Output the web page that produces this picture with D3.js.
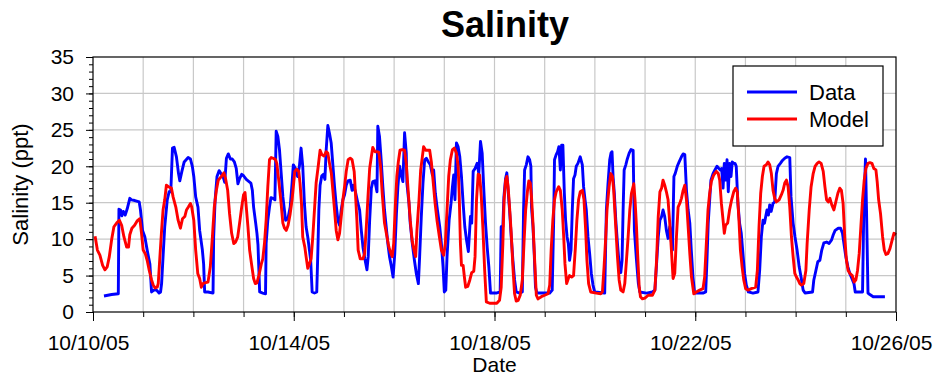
<!DOCTYPE html>
<html>
<head>
<meta charset="utf-8">
<script src="https://cdn.jsdelivr.net/npm/d3@7"></script>
<style>
  body { margin: 0; background: #fff; }
  svg { display: block; }
  text { font-family: "Liberation Sans", Arial, Helvetica, sans-serif; fill: #000; }
</style>
</head>
<body>
<svg id="chart" width="936" height="376"></svg>
<script>
// Salinity record, 10/10/05 - 10/26/05. Times are hours after 10/10/05 00:00.
const startDate = new Date(2005, 9, 10);
const endDate = new Date(2005, 9, 26);
const yTickValues = [0, 5, 10, 15, 20, 25, 30, 35];
const seriesNames = ["Data", "Model"];

// Measured salinity (ppt)
const dataHours = [
  5.25, 8.9, 12.1, 12.4, 13.2, 13.8, 14.5, 15.4, 16.4, 17.6, 18.4, 20.0, 22.1, 22.7, 23.7, 24.8, 25.9, 27.2, 28.0, 29.1,
  30.4, 31.6, 32.3, 32.8, 33.5, 34.3, 35.5, 36.4, 37.2, 38.0, 38.8, 39.9, 40.9, 41.5, 42.5, 43.6, 45.5, 46.6, 47.5, 48.2,
  49.1, 50.2, 51.0, 52.3, 52.9, 53.4, 55.0, 57.4, 57.7, 58.4, 59.3, 60.3, 61.2, 62.2, 63.0, 63.8, 64.7, 65.7, 66.6, 67.6,
  68.5, 69.3, 70.1, 71.1, 72.0, 73.3, 74.6, 75.5, 76.2, 76.8, 77.8, 78.4, 78.9, 79.7, 81.2, 82.5, 82.8, 83.6, 84.4, 85.1,
  86.0, 87.0, 87.6, 88.4, 89.2, 90.0, 90.8, 92.1, 93.2, 94.3, 95.2, 95.8, 96.8, 97.8, 98.7, 99.5, 100.3, 101.1, 101.9, 102.7,
  103.5, 104.1, 104.8, 105.9, 107.0, 107.5, 108.0, 108.6, 109.4, 110.2, 110.9, 111.5, 112.3, 113.1, 113.9, 114.7, 115.5, 116.3, 117.1, 117.9,
  118.7, 119.5, 120.3, 121.1, 121.9, 123.0, 123.9, 124.6, 125.5, 126.7, 127.5, 128.3, 129.1, 130.0, 131.0, 131.6, 132.3, 133.1, 133.8, 134.8,
  135.8, 136.2, 137.0, 137.8, 138.6, 139.4, 140.2, 141.0, 141.8, 142.7, 143.5, 144.3, 145.1, 145.8, 146.6, 147.4, 148.2, 149.0, 149.8, 150.1,
  151.1, 151.7, 152.7, 153.7, 154.6, 155.6, 156.2, 157.0, 157.8, 158.6, 159.4, 160.4, 161.3, 162.3, 162.9, 163.7, 164.7, 165.8, 166.6, 167.4,
  168.0, 168.7, 169.3, 170.3, 171.2, 171.9, 172.5, 173.1, 173.8, 174.6, 175.4, 176.2, 177.0, 177.8, 178.6, 179.5, 180.5, 181.1, 181.8, 182.7,
  183.7, 184.5, 185.3, 186.1, 186.9, 187.7, 188.5, 189.3, 190.1, 192.8, 194.7, 195.2, 196.0, 196.5, 197.3, 197.9, 198.5, 199.2, 200.0, 200.8,
  201.6, 202.4, 204.0, 205.3, 205.9, 206.4, 207.2, 208.0, 208.8, 209.4, 209.7, 210.4, 211.0, 211.6, 212.3, 218.4, 219.6, 220.3, 220.7, 221.5,
  222.2, 222.8, 223.5, 224.1, 224.7, 225.4, 226.0, 226.7, 227.3, 227.9, 228.6, 229.2, 229.8, 230.5, 231.1, 231.9, 233.0, 234.0, 234.6, 235.3,
  235.9, 236.7, 237.5, 238.3, 239.1, 239.9, 244.7, 245.5, 246.3, 247.1, 247.7, 248.2, 248.7, 249.3, 250.0, 250.8, 251.6, 252.4, 253.0, 253.5,
  254.0, 254.8, 255.4, 256.4, 257.3, 258.3, 258.9, 259.9, 260.8, 261.5, 264.7, 267.5, 268.7, 269.5, 270.3, 271.1, 271.9, 272.6, 273.4, 274.2,
  275.0, 275.8, 276.6, 277.1, 277.8, 278.4, 279.4, 280.3, 281.4, 282.2, 283.0, 283.8, 284.6, 285.4, 286.1, 286.9, 287.7, 291.7, 293.0, 293.6,
  294.2, 294.9, 295.5, 296.5, 297.4, 298.4, 299.3, 300.0, 300.6, 301.3, 301.9, 302.5, 303.2, 303.8, 304.4, 305.1, 305.7, 306.4, 307.0, 307.6,
  308.4, 309.2, 310.0, 310.8, 311.6, 312.4, 313.4, 315.6, 318.0, 318.8, 319.6, 320.4, 321.1, 321.7, 322.3, 323.0, 323.6, 324.3, 325.2, 326.0,
  326.8, 327.6, 328.7, 329.7, 330.8, 331.9, 333.2, 333.8, 334.8, 335.7, 336.7, 337.7, 338.6, 339.6, 340.5, 344.1, 344.7, 345.7, 346.6, 347.6,
  348.5, 349.5, 350.8, 352.0, 353.2, 354.0, 354.9, 356.4, 357.5, 358.4, 359.1, 360.0, 361.0, 361.9, 362.9, 363.9, 364.5, 368.0, 368.6, 369.4,
  369.9, 370.6, 371.5, 373.1, 378.7
];
const dataPpt = [
  2.2, 2.4, 2.5, 14.1, 14.0, 13.2, 13.8, 13.3, 14.2, 15.6, 15.4, 15.3, 15.1, 14.0, 11.2, 10.3, 8.5, 6.6, 2.75, 3.0,
  3.0, 2.6, 2.75, 3.9, 7.6, 11.7, 15.4, 16.5, 16.5, 22.5, 22.6, 21.3, 19.0, 18.0, 19.3, 20.6, 21.2, 21.0, 20.0, 18.6,
  15.8, 14.4, 11.2, 8.5, 6.6, 2.75, 2.75, 2.6, 10.3, 15.4, 18.6, 19.4, 19.0, 18.6, 17.8, 21.1, 21.7, 21.0, 21.0, 20.6,
  19.7, 17.6, 18.3, 18.9, 18.7, 18.2, 17.9, 17.7, 16.7, 14.4, 12.2, 10.8, 9.2, 2.75, 2.6, 2.5, 9.4, 12.6, 14.4, 15.7,
  15.6, 15.4, 24.8, 24.1, 22.2, 19.0, 15.8, 12.6, 12.8, 14.4, 17.7, 20.2, 19.7, 18.6, 20.0, 22.5, 20.0, 14.9, 11.7, 10.3,
  8.5, 7.1, 2.75, 2.6, 2.75, 8.0, 14.0, 17.4, 18.7, 18.9, 18.2, 22.2, 25.6, 24.5, 23.2, 20.2, 17.2, 14.7, 12.6, 11.9,
  14.0, 15.4, 16.1, 17.4, 18.0, 18.1, 16.7, 17.4, 16.5, 14.9, 14.0, 11.2, 8.9, 7.3, 5.8, 7.6, 12.6, 17.0, 17.9, 18.0,
  16.5, 25.5, 24.1, 20.9, 17.2, 14.0, 11.7, 9.4, 7.6, 6.2, 4.8, 8.0, 13.5, 17.2, 20.0, 18.8, 17.9, 24.6, 21.8, 17.7,
  14.9, 12.2, 9.4, 7.1, 5.3, 3.9, 7.6, 13.1, 17.7, 20.9, 21.1, 20.6, 20.2, 18.8, 19.5, 16.3, 14.0, 11.7, 9.4, 6.2,
  2.75, 3.0, 7.6, 12.6, 14.9, 17.2, 18.8, 15.4, 23.2, 22.7, 21.3, 18.6, 14.9, 11.7, 9.9, 8.3, 13.1, 12.2, 19.3, 19.7,
  20.4, 19.0, 23.4, 21.8, 16.7, 12.2, 8.9, 6.2, 2.6, 2.6, 2.75, 11.7, 11.7, 15.8, 18.3, 19.1, 16.7, 14.0, 10.3, 7.1,
  4.4, 2.75, 2.6, 2.75, 14.0, 19.5, 20.2, 21.3, 20.9, 20.0, 14.4, 11.7, 8.0, 3.4, 2.6, 2.6, 3.0, 12.6, 20.9, 21.6,
  22.0, 22.7, 19.5, 22.9, 22.9, 16.3, 12.6, 10.3, 9.4, 7.1, 8.5, 14.0, 18.3, 18.8, 20.0, 20.4, 21.3, 20.2, 17.2, 15.4,
  14.0, 10.3, 8.0, 5.3, 3.7, 2.75, 2.6, 14.0, 17.7, 20.9, 21.8, 22.0, 18.6, 16.3, 12.6, 9.4, 6.6, 5.4, 7.1, 14.0,
  19.5, 20.2, 20.9, 21.8, 22.3, 22.2, 11.2, 7.1, 3.9, 2.75, 2.6, 2.75, 3.0, 6.6, 10.3, 12.6, 13.1, 14.0, 13.1, 11.2,
  10.1, 11.7, 9.6, 8.5, 18.6, 19.0, 20.0, 20.6, 21.3, 21.7, 21.6, 16.7, 14.0, 12.2, 8.5, 4.8, 2.6, 2.6, 2.75, 7.1,
  12.2, 15.4, 18.1, 19.0, 19.5, 20.0, 19.7, 19.5, 19.7, 17.0, 20.4, 18.1, 20.9, 16.5, 20.4, 18.6, 20.6, 20.4, 20.4, 20.0,
  14.9, 12.2, 10.8, 8.0, 5.3, 3.7, 2.75, 2.6, 2.75, 5.7, 10.3, 12.6, 12.2, 13.1, 14.0, 13.3, 14.7, 13.8, 14.9, 15.1,
  19.0, 20.0, 20.4, 20.8, 21.1, 21.3, 21.2, 15.8, 12.2, 10.3, 8.5, 6.2, 4.8, 3.0, 2.6, 2.75, 4.4, 5.7, 6.9, 7.1,
  8.5, 9.5, 9.6, 9.4, 9.9, 10.6, 11.2, 11.5, 11.5, 10.8, 9.4, 7.6, 6.2, 5.3, 4.6, 3.9, 2.75, 2.75, 14.0, 21.0,
  14.0, 2.6, 2.4, 2.1, 2.1
];

// Model salinity (ppt)
const modelHours = [
  1.0, 2.1, 3.3, 4.6, 5.7, 6.8, 7.8, 8.9, 10.0, 11.3, 12.6, 13.7, 14.8, 16.1, 17.0, 17.6, 18.6, 19.9, 21.1, 22.4,
  23.2, 24.0, 25.0, 25.9, 26.9, 28.0, 28.8, 29.7, 30.7, 31.2, 32.0, 32.8, 33.5, 34.3, 35.1, 36.1, 37.5, 38.3, 39.6, 40.7,
  41.8, 42.8, 43.9, 44.7, 45.6, 46.6, 47.2, 48.2, 49.1, 50.1, 51.0, 51.8, 52.6, 53.4, 55.0, 56.1, 57.1, 58.0, 59.0, 59.9,
  61.4, 62.6, 63.4, 64.4, 65.3, 66.3, 67.3, 68.2, 69.2, 70.1, 71.1, 72.0, 72.7, 73.3, 74.1, 74.9, 75.8, 76.8, 77.6, 78.4,
  79.3, 80.5, 81.2, 82.0, 82.8, 83.6, 84.4, 85.2, 86.3, 87.3, 87.9, 88.9, 89.8, 90.8, 91.6, 92.4, 93.3, 94.3, 95.2, 95.9,
  96.5, 97.4, 98.4, 99.0, 99.7, 100.3, 101.3, 101.9, 102.7, 103.5, 104.3, 105.1, 105.9, 106.7, 107.7, 108.6, 109.4, 110.5, 111.5, 112.3,
  113.1, 114.0, 114.7, 115.5, 116.3, 117.1, 117.9, 118.7, 119.5, 120.3, 121.1, 122.0, 123.0, 123.9, 124.9, 125.5, 126.2, 126.8, 127.8, 129.1,
  129.9, 130.7, 131.5, 132.3, 133.1, 133.8, 134.8, 135.8, 136.7, 137.5, 138.3, 139.4, 140.6, 141.5, 142.5, 143.1, 143.8, 144.7, 145.3, 146.0,
  146.8, 147.9, 149.0, 149.8, 150.8, 151.7, 152.7, 153.5, 154.3, 154.9, 155.9, 156.7, 157.5, 158.1, 159.1, 160.0, 161.0, 161.8, 162.6, 163.6,
  164.5, 165.5, 166.6, 167.7, 168.5, 169.3, 170.1, 170.9, 171.9, 172.8, 173.8, 174.6, 175.1, 175.7, 176.2, 177.0, 177.6, 178.2, 179.2, 180.2,
  181.1, 182.1, 182.7, 183.4, 184.2, 184.9, 185.7, 186.5, 187.3, 188.1, 189.7, 191.7, 193.1, 194.4, 195.2, 196.0, 196.6, 197.3, 197.9, 198.5,
  199.2, 200.0, 200.8, 201.6, 202.4, 203.3, 204.3, 205.3, 206.1, 206.9, 207.8, 208.4, 209.1, 209.7, 210.4, 211.2, 212.0, 212.8, 214.4, 216.0,
  217.6, 218.4, 219.1, 219.9, 220.7, 221.5, 222.7, 223.5, 224.4, 225.1, 225.7, 226.5, 227.3, 227.9, 228.9, 229.8, 230.6, 231.4, 232.2, 233.0,
  234.0, 234.8, 235.6, 236.2, 237.0, 238.0, 240.7, 242.8, 243.6, 244.4, 245.2, 245.8, 246.8, 247.6, 248.4, 249.0, 249.8, 250.8, 251.6, 252.4,
  253.5, 254.3, 255.1, 255.9, 256.7, 257.5, 258.6, 259.2, 259.9, 260.5, 261.2, 261.8, 262.7, 263.9, 265.5, 267.5, 268.7, 269.5, 270.3, 271.1,
  271.9, 272.6, 273.4, 274.2, 275.0, 275.8, 276.6, 277.4, 278.2, 279.0, 279.8, 280.6, 281.4, 282.2, 283.0, 283.8, 284.6, 285.4, 286.2, 287.3,
  288.5, 290.1, 291.7, 292.5, 293.3, 294.1, 294.9, 295.7, 296.8, 298.1, 299.0, 299.7, 300.5, 301.3, 301.9, 302.5, 303.5, 304.4, 305.4, 306.4,
  307.3, 308.1, 308.9, 309.6, 310.4, 311.2, 312.1, 313.2, 314.8, 316.9, 317.7, 318.5, 319.3, 320.1, 320.9, 322.0, 322.8, 323.6, 324.4, 325.2,
  326.0, 326.8, 328.1, 329.2, 330.0, 330.8, 331.6, 332.4, 333.2, 334.0, 334.8, 335.6, 336.4, 337.2, 338.0, 338.8, 339.9, 340.9, 341.5, 342.5,
  343.4, 344.4, 345.3, 346.3, 347.2, 348.2, 349.2, 350.0, 350.8, 351.6, 352.4, 353.3, 354.3, 355.2, 356.2, 357.1, 357.9, 358.7, 359.5, 360.3,
  361.1, 361.9, 363.1, 364.0, 364.8, 365.6, 366.4, 367.2, 368.0, 368.8, 369.6, 370.6, 371.5, 372.5, 373.4, 374.4, 375.0, 375.7, 376.6, 377.6,
  378.4, 379.2, 380.1, 381.1, 381.9, 383.0, 384.0
];
const modelPpt = [
  10.4, 8.5, 7.8, 6.4, 5.8, 6.2, 7.6, 9.9, 11.7, 12.2, 12.6, 11.9, 10.3, 8.9, 8.9, 10.6, 11.5, 11.9, 12.5, 12.8,
  10.8, 8.5, 8.0, 7.1, 5.7, 4.4, 3.7, 3.3, 3.4, 3.9, 7.6, 11.2, 14.0, 15.4, 17.4, 17.2, 17.0, 15.8, 14.4, 12.6,
  11.5, 12.8, 13.1, 14.0, 14.4, 14.9, 14.4, 12.6, 8.5, 5.3, 4.6, 3.4, 3.9, 4.0, 4.1, 6.2, 10.3, 14.4, 16.7, 18.1,
  18.6, 19.1, 18.3, 16.7, 13.5, 10.8, 9.4, 9.6, 10.3, 12.2, 14.4, 16.1, 16.4, 14.4, 11.7, 8.5, 6.6, 4.6, 3.9, 4.0,
  5.0, 6.6, 7.3, 9.4, 12.6, 17.2, 20.9, 21.2, 21.1, 20.9, 20.4, 17.9, 15.4, 12.2, 11.5, 11.2, 11.9, 13.5, 15.4, 17.5,
  19.3, 19.6, 19.3, 17.7, 14.9, 10.3, 8.9, 7.6, 6.0, 6.6, 7.3, 10.3, 14.0, 17.7, 20.0, 22.2, 21.6, 21.4, 22.0, 21.8,
  20.4, 19.0, 16.7, 14.0, 11.2, 9.9, 10.8, 13.1, 15.4, 17.2, 19.3, 20.9, 21.1, 20.9, 19.3, 16.3, 12.6, 8.5, 7.3, 7.3,
  8.0, 11.7, 15.8, 19.7, 21.3, 22.6, 22.0, 22.0, 21.9, 20.0, 16.3, 12.2, 10.3, 8.9, 8.0, 7.6, 9.4, 15.4, 18.6, 20.6,
  22.2, 22.3, 22.2, 20.4, 16.3, 12.6, 9.6, 8.5, 7.6, 11.2, 15.4, 19.5, 21.3, 22.7, 22.2, 22.2, 22.2, 20.6, 18.1, 14.9,
  12.6, 10.6, 8.5, 7.8, 9.4, 14.0, 18.6, 20.9, 22.3, 22.5, 21.8, 20.0, 16.3, 9.4, 6.4, 6.4, 4.8, 3.4, 3.5, 4.4,
  5.4, 5.6, 7.6, 15.4, 18.9, 18.8, 15.8, 11.2, 5.7, 1.4, 1.2, 1.2, 1.2, 1.6, 3.4, 9.4, 15.4, 18.1, 18.6, 17.2,
  14.4, 10.8, 6.2, 2.5, 1.5, 1.6, 2.3, 4.4, 9.4, 14.0, 16.7, 18.0, 17.7, 15.8, 12.2, 7.1, 2.3, 1.8, 2.1, 2.3,
  2.5, 3.7, 8.5, 12.6, 15.4, 16.5, 17.2, 16.7, 14.0, 10.3, 6.6, 3.9, 4.6, 5.0, 4.8, 5.0, 8.5, 12.6, 15.4, 16.5,
  16.7, 15.4, 11.2, 7.1, 3.9, 2.75, 2.6, 2.5, 2.75, 6.2, 10.3, 14.0, 17.2, 19.0, 18.6, 16.7, 12.6, 7.6, 4.4, 3.0,
  2.75, 3.9, 7.1, 10.3, 14.0, 16.3, 17.6, 15.4, 11.7, 7.6, 3.4, 2.1, 1.8, 1.9, 2.3, 2.3, 3.0, 7.1, 13.1, 16.5,
  17.0, 18.1, 17.4, 16.5, 15.4, 12.2, 8.5, 4.6, 5.3, 10.3, 14.4, 14.9, 15.6, 16.7, 17.4, 15.4, 11.7, 8.0, 4.8, 2.5,
  2.75, 3.0, 3.2, 4.8, 9.4, 14.0, 16.3, 17.9, 18.8, 19.3, 19.0, 18.1, 14.9, 12.6, 10.8, 11.9, 12.2, 14.0, 15.4, 16.5,
  17.0, 16.5, 12.6, 8.5, 6.2, 4.4, 3.2, 3.0, 3.2, 3.4, 5.7, 11.7, 16.3, 18.6, 20.0, 20.2, 20.6, 20.2, 19.0, 16.7,
  15.6, 15.1, 15.4, 16.1, 16.7, 17.7, 18.1, 17.2, 14.4, 10.3, 7.6, 5.3, 4.8, 4.4, 3.9, 3.7, 3.9, 5.7, 9.4, 14.0,
  17.2, 19.0, 20.0, 20.4, 20.6, 20.4, 19.3, 17.2, 15.4, 15.1, 15.6, 14.7, 14.0, 15.1, 16.3, 17.0, 16.7, 14.9, 10.3, 7.1,
  5.7, 5.3, 5.0, 4.1, 4.4, 5.7, 8.0, 11.7, 15.4, 18.1, 19.7, 20.4, 20.5, 20.4, 19.7, 19.5, 17.9, 15.4, 13.5, 10.3,
  8.5, 7.9, 8.0, 8.7, 9.6, 10.8, 10.6
];

const seriesColors = ["#0000ff", "#ff0000"];

const svg = d3.select("#chart");
const margin = { top: 57, right: 40, bottom: 64, left: 93 };
const W = +svg.attr("width") - margin.left - margin.right;
const H = +svg.attr("height") - margin.top - margin.bottom;
const g = svg.append("g").attr("transform", `translate(${margin.left},${margin.top})`);

const toDate = h => new Date(startDate.getTime() + h * 3600e3);
const x = d3.scaleTime().domain([startDate, endDate]).range([0, W]);
const y = d3.scaleLinear().domain([0, 35]).range([H, 0]);

// grid
const dayTicks = d3.timeDay.range(d3.timeDay.offset(startDate, 1), endDate);
g.append("g").selectAll("line").data(dayTicks).join("line")
  .attr("x1", d => x(d)).attr("x2", d => x(d)).attr("y1", 0).attr("y2", H)
  .attr("stroke", "#c8c8c8").attr("stroke-width", 1.2);
g.append("g").selectAll("line").data(yTickValues.filter(v => v > 0 && v < 35)).join("line")
  .attr("x1", 0).attr("x2", W).attr("y1", d => y(d)).attr("y2", d => y(d))
  .attr("stroke", "#c8c8c8").attr("stroke-width", 1.2);

// series
const line = d3.line().x(d => x(d.t)).y(d => y(d.v)).curve(d3.curveLinear);
const series = [
  dataHours.map((h, i) => ({ t: toDate(h), v: dataPpt[i] })),
  modelHours.map((h, i) => ({ t: toDate(h), v: modelPpt[i] }))
];
series.forEach((s, i) => {
  g.append("path").datum(s).attr("d", line)
    .attr("fill", "none").attr("stroke", seriesColors[i])
    .attr("stroke-width", 2.9).attr("stroke-linejoin", "round");
});

// frame
g.append("rect").attr("x", 0).attr("y", 0).attr("width", W).attr("height", H)
  .attr("fill", "none").attr("stroke", "#000").attr("stroke-width", 1.2);

// y axis: major + minor ticks
const yMinor = d3.range(0, 36, 1);
g.append("g").call(d3.axisLeft(y).tickValues(yMinor).tickSize(4).tickFormat(""))
  .call(a => a.select(".domain").remove())
  .selectAll("line").attr("stroke", "#000");
g.append("g").call(d3.axisLeft(y).tickValues(yTickValues).tickSize(7).tickPadding(12).tickFormat(d3.format("d")))
  .call(a => a.select(".domain").remove())
  .call(a => a.selectAll("line").attr("stroke", "#000"))
  .call(a => a.selectAll("text").attr("font-size", 21).attr("font-family", null));

// x axis: daily minor ticks, 4-day labelled ticks
g.append("g").attr("transform", `translate(0,${H})`)
  .call(d3.axisBottom(x).tickValues(d3.timeDay.range(startDate, d3.timeDay.offset(endDate, 1))).tickSize(5).tickFormat(""))
  .call(a => a.select(".domain").remove())
  .selectAll("line").attr("stroke", "#000");
g.append("g").attr("transform", `translate(0,${H})`)
  .call(d3.axisBottom(x).tickValues(d3.timeDay.range(startDate, d3.timeDay.offset(endDate, 1), 4))
    .tickSize(9).tickPadding(14).tickFormat(d3.timeFormat("%m/%d/%y")))
  .call(a => a.select(".domain").remove())
  .call(a => a.selectAll("line").attr("stroke", "#000"))
  .call(a => a.selectAll("text").attr("font-size", 21).attr("font-family", null).attr("dx", -5));

// titles
svg.append("text").attr("x", 505).attr("y", 36.5).attr("text-anchor", "middle")
  .attr("font-size", 36).attr("font-weight", "bold").text("Salinity");
svg.append("text").attr("x", margin.left + W / 2).attr("y", 371.5).attr("text-anchor", "middle")
  .attr("font-size", 21).text("Date");
svg.append("text").attr("transform", `translate(28,${margin.top + H / 2}) rotate(-90)`)
  .attr("text-anchor", "middle").attr("font-size", 22).text("Salinity (ppt)");

// legend
const lg = svg.append("g").attr("transform", "translate(733,66)");
lg.append("rect").attr("width", 150).attr("height", 80)
  .attr("fill", "#fff").attr("stroke", "#000").attr("stroke-width", 1.2);
seriesNames.forEach((name, i) => {
  const ly = 26 + i * 27;
  lg.append("line").attr("x1", 14).attr("x2", 64).attr("y1", ly).attr("y2", ly)
    .attr("stroke", seriesColors[i]).attr("stroke-width", 2.9);
  lg.append("text").attr("x", 76).attr("y", ly).attr("dy", "0.36em")
    .attr("font-size", 22).text(name);
});
</script>
</body>
</html>
